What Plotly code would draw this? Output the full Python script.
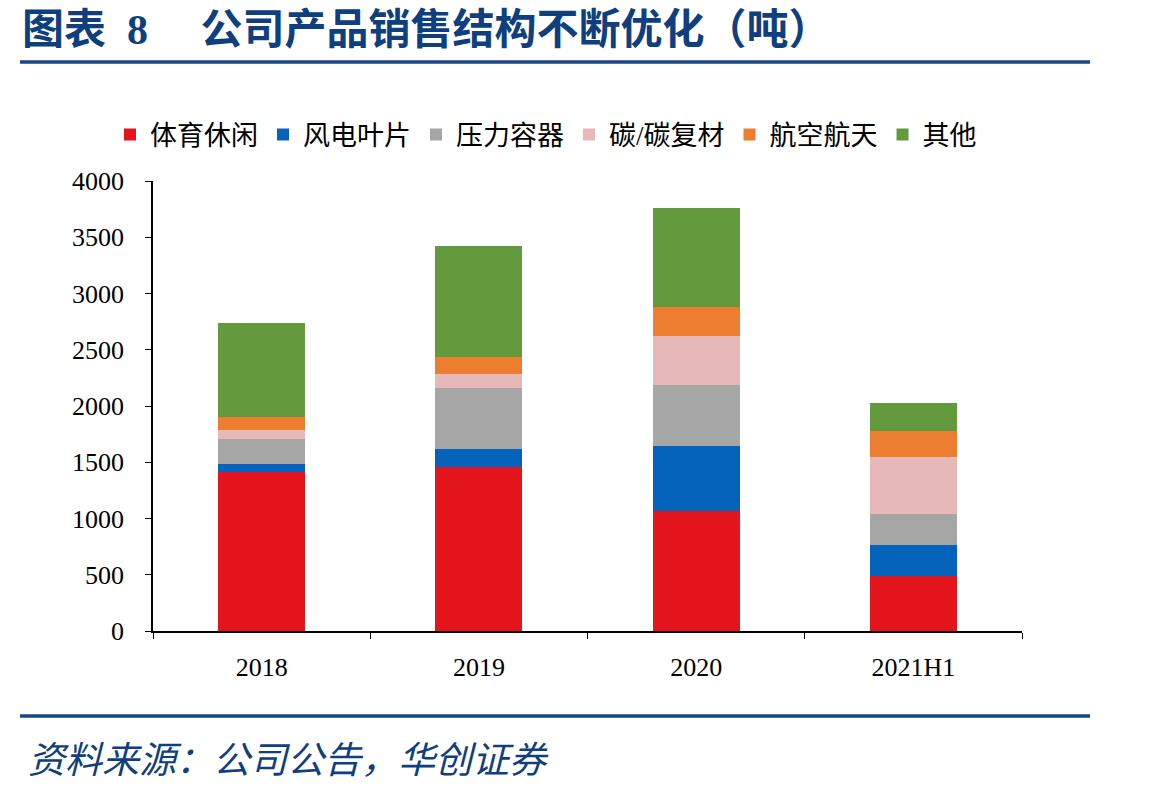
import plotly.graph_objects as go

categories = ["2018", "2019", "2020", "2021H1"]
series_names = ["体育休闲", "风电叶片", "压力容器", "碳/碳复材", "航空航天", "其他"]
sports = [1416, 1461, 1069, 492]
wind = [71, 157, 575, 275]
pressure = [222, 545, 546, 270]
cc = [78, 121, 429, 510]
aero = [115, 149, 258, 233]
other = [833, 989, 883, 244]
colors = ["#E3141B", "#0563BB", "#A6A6A6", "#E6B9B8", "#ED7D31", "#649A3E"]
y_ticks = [0, 500, 1000, 1500, 2000, 2500, 3000, 3500, 4000]

title_text = "图表&nbsp;&nbsp;8&nbsp;&nbsp;&nbsp;&nbsp;&nbsp;公司产品销售结构不断优化（吨）"
source_text = "资料来源：公司公告，华创证券"

NAVY = "#0F3F7E"
CJK = "Liberation Serif, Times New Roman, Noto Sans CJK SC"

fig = go.Figure()
for name, vals, col in zip(series_names, [sports, wind, pressure, cc, aero, other], colors):
    fig.add_trace(go.Bar(x=categories, y=vals, name=name, marker=dict(color=col, line=dict(width=0)), width=0.4))

L, R, T, B = 153, 127, 181, 161
W, H = 1149, 792
pw = W - L - R
ph = H - T - B

def px(x):
    return (x - L) / pw

def py(y):
    return (H - B - y) / ph

fig.update_layout(
    width=W, height=H,
    margin=dict(l=L, r=R, t=T, b=B),
    barmode="stack",
    plot_bgcolor="white", paper_bgcolor="white",
    font=dict(family=CJK, size=26, color="black"),
    showlegend=True,
    legend=dict(orientation="h", x=px(110), y=py(135), xanchor="left", yanchor="middle",
                font=dict(size=27, family=CJK), itemwidth=30, traceorder="normal",
                bgcolor="rgba(0,0,0,0)"),
    xaxis=dict(showline=True, linecolor="black", linewidth=1.5, ticks="outside", ticklen=6,
               tickcolor="black", tickson="boundaries", tickfont=dict(size=26, family=CJK),
               showgrid=False, ticklabelstandoff=12),
    yaxis=dict(range=[0, 4000], tickvals=y_ticks, showline=True, linecolor="black", linewidth=1.5,
               ticks="outside", ticklen=6, tickcolor="black", showgrid=False, zeroline=False,
               tickfont=dict(size=26, family=CJK), ticklabelstandoff=16),
    bargap=0.6,
)

fig.add_annotation(text="<b>" + title_text + "</b>", xref="paper", yref="paper",
                   x=px(20), y=py(30), xanchor="left", yanchor="middle", showarrow=False,
                   font=dict(size=42, color=NAVY, family=CJK))
fig.add_annotation(text="<i>" + source_text + "</i>", xref="paper", yref="paper",
                   x=px(26), y=py(760), xanchor="left", yanchor="middle", showarrow=False,
                   font=dict(size=37, color=NAVY, family=CJK))
for yy in [62, 716]:
    fig.add_shape(type="line", xref="paper", yref="paper", x0=px(20), x1=px(1090),
                  y0=py(yy), y1=py(yy), line=dict(color="#1B4587", width=3.5))

fig.write_html("out.html")
